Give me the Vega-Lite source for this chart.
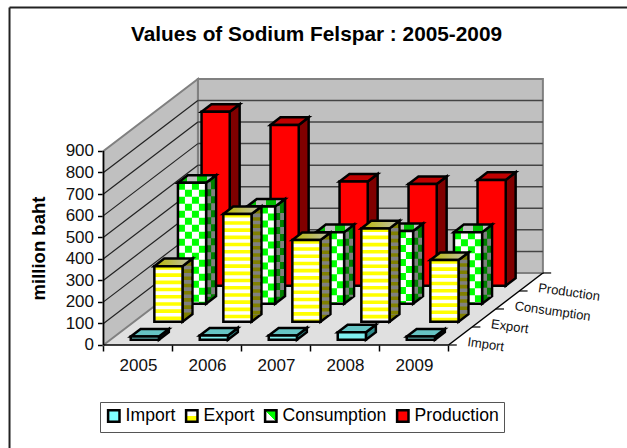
{
"$schema":"https://vega.github.io/schema/vega-lite/v6.json",
"width":627,"height":448,"autosize":{"type":"none"},"padding":0,"background":"white",
"config":{"font":"Liberation Sans","view":{"stroke":null}},
"resolve":{"axis":{"x":"independent","y":"independent"}},
"title":{"text":"Values of Sodium Felspar : 2005-2009","anchor":"middle","frame":"group","offset":-46,"dx":3,"font":"Liberation Sans","fontSize":20.8,"fontWeight":"bold","color":"black"},
"datasets":{
"bars":[
{"year":2005,"series":"Import","k":0,"value":15},{"year":2006,"series":"Import","k":0,"value":20},{"year":2007,"series":"Import","k":0,"value":20},{"year":2008,"series":"Import","k":0,"value":35},{"year":2009,"series":"Import","k":0,"value":15},
{"year":2005,"series":"Export","k":1,"value":258},{"year":2006,"series":"Export","k":1,"value":500},{"year":2007,"series":"Export","k":1,"value":379},{"year":2008,"series":"Export","k":1,"value":433},{"year":2009,"series":"Export","k":1,"value":286},
{"year":2005,"series":"Consumption","k":2,"value":561},{"year":2006,"series":"Consumption","k":2,"value":451},{"year":2007,"series":"Consumption","k":2,"value":332},{"year":2008,"series":"Consumption","k":2,"value":337},{"year":2009,"series":"Consumption","k":2,"value":332},
{"year":2005,"series":"Production","k":3,"value":807},{"year":2006,"series":"Production","k":3,"value":746},{"year":2007,"series":"Production","k":3,"value":483},{"year":2008,"series":"Production","k":3,"value":472},{"year":2009,"series":"Production","k":3,"value":491}
],
"grid":[{"v":0},{"v":100},{"v":200},{"v":300},{"v":400},{"v":500},{"v":600},{"v":700},{"v":800},{"v":900}],
"depth":[{"k":0,"series":"Import"},{"k":1,"series":"Export"},{"k":2,"series":"Consumption"},{"k":3,"series":"Production"}],
"depthTicks":[{"k":0},{"k":1},{"k":2},{"k":3},{"k":4}]
},
"layer":[
{"data":{"values":[{"px":2004.5,"lo":0,"hi":0},{"px":2005.868,"lo":0,"hi":334},{"px":2009.5,"lo":0,"hi":334},{"px":2010.868,"lo":334,"hi":334}]},
 "mark":{"type":"area","fill":"#e0e0e0","orient":"vertical"},
 "encoding":{
  "x":{"field":"px","type":"quantitative","scale":{"domain":[2003,2012.087],"nice":false,"zero":false},"title":null,
   "axis":{"orient":"bottom","offset":-103,"values":[2004.5,2005.5,2006.5,2007.5,2008.5,2009.5],"labelExpr":"datum.value<2009.5 ? format(datum.value+0.5,'d') : ''","labelOffset":34.5,"labelAlign":"center","labelFontSize":17,"labelFont":"Liberation Sans","labelColor":"#111","labelPadding":6,"tickSize":6,"tickColor":"black","tickWidth":1.5,"domain":false,"grid":false,"labelOverlap":false,"labelBound":false,"labelFlush":false}},
  "y":{"field":"lo","type":"quantitative","scale":{"domain":[-477.7,1600],"nice":false,"zero":false},
   "axis":{"orient":"left","offset":-103.5,"values":[0,100,200,300,400,500,600,700,800,900],"format":"d","labelFontSize":17,"labelFont":"Liberation Sans","labelColor":"#111","labelPadding":4,"tickSize":6,"tickColor":"black","tickWidth":1.5,"domain":false,"grid":false,"labelOverlap":false,"title":"million baht","titleFont":"Liberation Sans","titleFontSize":18.5,"titleFontWeight":"bold","titleColor":"black","titleX":-65.5,"titleY":248,"titleAngle":-90,"titleAlign":"center","titleBaseline":"middle"}},
  "y2":{"field":"hi"}}},
{"data":{"values":[{"px":2005.868,"px2":2010.868,"lo":334,"hi":1234}]},
 "mark":{"type":"rect","fill":"#c0c0c0","stroke":"#808080","strokeWidth":2},
 "encoding":{
  "x":{"field":"px","type":"quantitative","scale":{"domain":[2003,2012.087],"nice":false,"zero":false},"axis":null},
  "x2":{"field":"px2"},
  "y":{"field":"lo","type":"quantitative","scale":{"domain":[-477.7,1600],"nice":false,"zero":false},"axis":null},
  "y2":{"field":"hi"}}},
{"data":{"values":[{"px":2004.5,"lo":0,"hi":900},{"px":2005.868,"lo":334,"hi":1234}]},
 "mark":{"type":"area","fill":"#c0c0c0","stroke":"#808080","strokeWidth":2,"orient":"vertical"},
 "encoding":{"x":{"field":"px","type":"quantitative","scale":{"domain":[2003,2012.087],"nice":false,"zero":false},"axis":null},"y":{"field":"lo","type":"quantitative","scale":{"domain":[-477.7,1600],"nice":false,"zero":false},"axis":null},"y2":{"field":"hi"}}},
{"data":{"name":"grid"},"transform":[{"filter":"datum.v>0"},{"calculate":"datum.v+334","as":"vb"},{"calculate":"2004.5","as":"a"},{"calculate":"2005.868","as":"b"},{"calculate":"2010.868","as":"c"}],
 "layer":[
 {"transform":[{"filter":"datum.v<900"}],"mark":{"type":"rule","stroke":"#222","strokeWidth":1.2},
  "encoding":{"x":{"field":"a","type":"quantitative","scale":{"domain":[2003,2012.087],"nice":false,"zero":false},"axis":null},"x2":{"field":"b"},"y":{"field":"v","type":"quantitative","scale":{"domain":[-477.7,1600],"nice":false,"zero":false},"axis":null},"y2":{"field":"vb"}}},
 {"transform":[{"filter":"datum.v<900"}],"mark":{"type":"rule","stroke":"#444","strokeWidth":1.5},
  "encoding":{"x":{"field":"b","type":"quantitative","scale":{"domain":[2003,2012.087],"nice":false,"zero":false},"axis":null},"x2":{"field":"c"},"y":{"field":"vb","type":"quantitative","scale":{"domain":[-477.7,1600],"nice":false,"zero":false},"axis":null}}}
 ]},
{"data":{"values":[{"a":2004.5,"b":2004.5,"c":0,"d":900},{"a":2004.5,"b":2009.5,"c":0,"d":0},{"a":2009.5,"b":2010.868,"c":0,"d":334}]},
 "mark":{"type":"rule","stroke":"black","strokeWidth":1.5},
 "encoding":{"x":{"field":"a","type":"quantitative","scale":{"domain":[2003,2012.087],"nice":false,"zero":false},"axis":null},"x2":{"field":"b"},"y":{"field":"c","type":"quantitative","scale":{"domain":[-477.7,1600],"nice":false,"zero":false},"axis":null},"y2":{"field":"d"}}},
{"data":{"name":"depthTicks"},"transform":[{"calculate":"2009.5+datum.k*0.342","as":"a"},{"calculate":"datum.a+0.12","as":"b"},{"calculate":"datum.k*83.5","as":"c"}],
 "mark":{"type":"rule","stroke":"black","strokeWidth":1.2},
 "encoding":{"x":{"field":"a","type":"quantitative","scale":{"domain":[2003,2012.087],"nice":false,"zero":false},"axis":null},"x2":{"field":"b"},"y":{"field":"c","type":"quantitative","scale":{"domain":[-477.7,1600],"nice":false,"zero":false},"axis":null}}},
{"data":{"name":"depth"},"transform":[{"calculate":"2009.5+(datum.k+0.5)*0.342","as":"a"},{"calculate":"(datum.k+0.5)*83.5","as":"c"}],
 "mark":{"type":"text","align":"left","baseline":"middle","angle":8,"fontSize":13,"font":"Liberation Sans","fill":"#111","dx":8,"dy":5},
 "encoding":{"text":{"field":"series"},"x":{"field":"a","type":"quantitative","scale":{"domain":[2003,2012.087],"nice":false,"zero":false},"axis":null},"y":{"field":"c","type":"quantitative","scale":{"domain":[-477.7,1600],"nice":false,"zero":false},"axis":null}}},
{"data":{"values":[{"a":2003.138,"b":2012.087,"c":1565.4,"d":1565.4},{"a":2003.138,"b":2003.138,"c":1565.4,"d":-477.7}]},
 "mark":{"type":"rule","stroke":"#222","strokeWidth":2},
 "encoding":{"x":{"field":"a","type":"quantitative","scale":{"domain":[2003,2012.087],"nice":false,"zero":false},"axis":null},"x2":{"field":"b"},"y":{"field":"c","type":"quantitative","scale":{"domain":[-477.7,1600],"nice":false,"zero":false},"axis":null},"y2":{"field":"d"}}},
{"data":{"name":"bars"},
 "transform":[
  {"calculate":"datum.k+0.29","as":"d0"},
  {"calculate":"datum.year-0.2043+datum.d0*0.342","as":"xl"},
  {"calculate":"datum.xl+0.4086","as":"xr"},
  {"calculate":"datum.xr+0.1436","as":"xb"},
  {"calculate":"(datum.xl+datum.xr)/2","as":"xc"},
  {"calculate":"datum.xr+0.0718","as":"xs"},
  {"calculate":"datum.d0*83.5","as":"base"},
  {"calculate":"datum.base+datum.value","as":"top"},
  {"calculate":"datum.top+2","as":"st"},
  {"calculate":"datum.base+33","as":"sb"}
 ],
 "layer":[
  {"transform":[{"filter":"datum.series=='Production'"}],"layer":[
   {"transform":[{"fold":["xr","xb"],"as":["face","px"]},{"calculate":"datum.base+(datum.face=='xb'?35.07:0)","as":"lo"},{"calculate":"datum.top+(datum.face=='xb'?35.07:0)","as":"hi"}],
    "mark":{"type":"area","fill":"#800000","stroke":"black","strokeWidth":2.5,"orient":"vertical"},
    "encoding":{"detail":{"field":"year"},"x":{"field":"px","type":"quantitative","scale":{"domain":[2003,2012.087],"nice":false,"zero":false},"axis":null},"y":{"field":"lo","type":"quantitative","scale":{"domain":[-477.7,1600],"nice":false,"zero":false},"axis":null},"y2":{"field":"hi"}}},
   {"mark":{"type":"point","shape":"M0,0L2.82,0L3.81,-.756L.99,-.756Z","size":400,"filled":true,"fill":"#c00000","stroke":"black","strokeWidth":2.5,"opacity":1},
    "encoding":{"x":{"field":"xl","type":"quantitative","scale":{"domain":[2003,2012.087],"nice":false,"zero":false},"axis":null},"y":{"field":"top","type":"quantitative","scale":{"domain":[-477.7,1600],"nice":false,"zero":false},"axis":null}}},
   {"mark":{"type":"rect","stroke":"black","strokeWidth":2.5},
    "encoding":{
     "fill":{"field":"series","type":"nominal","scale":{"domain":["Import","Export","Consumption","Production"],"range":["#80ffff",{"expr":"{gradient:'linear',x1:0,y1:0,x2:0,y2:1,stops:[{offset:0,color:'#ffffff'},{offset:0.5,color:'#ffffff'},{offset:0.5,color:'#ffff00'},{offset:1,color:'#ffff00'}]}"},{"expr":"{gradient:'linear',x1:0,y1:1,x2:1,y2:0,stops:[{offset:0,color:'#ffffff'},{offset:0.5,color:'#ffffff'},{offset:0.5,color:'#00ff00'},{offset:1,color:'#00ff00'}]}"},"#ff0000"]},
      "legend":{"orient":"none","legendX":100,"legendY":402,"direction":"horizontal","columns":4,"title":null,"symbolType":"square","symbolSize":130,"symbolStrokeColor":"black","symbolStrokeWidth":2.5,"symbolOpacity":1,"labelFontSize":17.6,"labelFont":"Liberation Sans","labelColor":"black","labelOffset":3,"labelLimit":200,"columnPadding":5,"padding":5,"strokeColor":"#555","fillColor":"white","values":["Import","Export","Consumption","Production"]}},
     "x":{"field":"xl","type":"quantitative","scale":{"domain":[2003,2012.087],"nice":false,"zero":false},"axis":null},"x2":{"field":"xr"},"y":{"field":"base","type":"quantitative","scale":{"domain":[-477.7,1600],"nice":false,"zero":false},"axis":null},"y2":{"field":"top"}}}
  ]},
  {"transform":[{"filter":"datum.series=='Consumption'"}],
   "encoding":{"x":{"field":"xl","type":"quantitative","scale":{"domain":[2003,2012.087],"nice":false,"zero":false},"axis":null},"y":{"field":"top","type":"quantitative","scale":{"domain":[-477.7,1600],"nice":false,"zero":false},"axis":null}},
   "layer":[
   {"transform":[{"fold":["xr","xb"],"as":["face","px"]},{"calculate":"datum.base+(datum.face=='xb'?35.07:0)","as":"lo"},{"calculate":"datum.top+(datum.face=='xb'?35.07:0)","as":"hi"}],
    "mark":{"type":"area","fill":"#008000","stroke":"black","strokeWidth":2.5,"orient":"vertical"},
    "encoding":{"detail":{"field":"year"},"x":{"field":"px","type":"quantitative"},"y":{"field":"lo","type":"quantitative"},"y2":{"field":"hi"}}},
   {"mark":{"type":"rule","stroke":"#808080","strokeWidth":3.8,"strokeDash":[7,7],"xOffset":-2},"encoding":{"x":{"field":"xs","type":"quantitative"},"y":{"field":"st","type":"quantitative"},"y2":{"field":"sb"}}},
   {"mark":{"type":"rule","stroke":"#808080","strokeWidth":3.8,"strokeDash":[7,7],"strokeDashOffset":7,"xOffset":2},"encoding":{"x":{"field":"xs","type":"quantitative"},"y":{"field":"st","type":"quantitative"},"y2":{"field":"sb"}}},
   {"mark":{"type":"point","shape":"M0,0L2.82,0L3.81,-.756L.99,-.756Z","size":400,"filled":true,"fill":{"gradient":"linear","x1":0,"y1":0,"x2":1,"y2":0,"stops":[{"offset":0,"color":"#00c000"},{"offset":0.25,"color":"#00c000"},{"offset":0.25,"color":"#c0c0c0"},{"offset":0.5,"color":"#c0c0c0"},{"offset":0.5,"color":"#00c000"},{"offset":0.75,"color":"#00c000"},{"offset":0.75,"color":"#c0c0c0"},{"offset":1,"color":"#c0c0c0"}]},"stroke":"black","strokeWidth":2.5,"opacity":1}},
   {"mark":{"type":"rect","fill":"white"},"encoding":{"x2":{"field":"xr"},"y2":{"field":"base"}}},
   {"mark":{"type":"rule","stroke":"#00ff00","strokeWidth":7,"strokeDash":[7,7],"xOffset":3.5},"encoding":{"y2":{"field":"base"}}},
   {"mark":{"type":"rule","stroke":"#00ff00","strokeWidth":7,"strokeDash":[7,7],"strokeDashOffset":7,"xOffset":10.5},"encoding":{"y2":{"field":"base"}}},
   {"mark":{"type":"rule","stroke":"#00ff00","strokeWidth":7,"strokeDash":[7,7],"xOffset":17.5},"encoding":{"y2":{"field":"base"}}},
   {"mark":{"type":"rule","stroke":"#00ff00","strokeWidth":7,"strokeDash":[7,7],"strokeDashOffset":7,"xOffset":24.5},"encoding":{"y2":{"field":"base"}}},
   {"mark":{"type":"rect","fillOpacity":0,"fill":"white","stroke":"black","strokeWidth":2.5},"encoding":{"x2":{"field":"xr"},"y2":{"field":"base"}}}
  ]},
  {"transform":[{"filter":"datum.series=='Export'"}],
   "encoding":{"x":{"field":"xl","type":"quantitative","scale":{"domain":[2003,2012.087],"nice":false,"zero":false},"axis":null},"y":{"field":"top","type":"quantitative","scale":{"domain":[-477.7,1600],"nice":false,"zero":false},"axis":null}},
   "layer":[
   {"transform":[{"fold":["xr","xb"],"as":["face","px"]},{"calculate":"datum.base+(datum.face=='xb'?35.07:0)","as":"lo"},{"calculate":"datum.top+(datum.face=='xb'?35.07:0)","as":"hi"}],
    "mark":{"type":"area","fill":"#808000","stroke":"black","strokeWidth":2.5,"orient":"vertical"},
    "encoding":{"detail":{"field":"year"},"x":{"field":"px","type":"quantitative"},"y":{"field":"lo","type":"quantitative"},"y2":{"field":"hi"}}},
   {"mark":{"type":"rule","stroke":"#808080","strokeWidth":7.5,"strokeDash":[3.6,3.6]},"encoding":{"x":{"field":"xs","type":"quantitative"},"y":{"field":"st","type":"quantitative"},"y2":{"field":"sb"}}},
   {"mark":{"type":"point","shape":"M0,0L2.82,0L3.81,-.756L.99,-.756Z","size":400,"filled":true,"fill":{"gradient":"linear","x1":0,"y1":0,"x2":1,"y2":0,"stops":[{"offset":0,"color":"#b8b800"},{"offset":1,"color":"#c0c0b0"}]},"stroke":"black","strokeWidth":2.5,"opacity":1}},
   {"mark":{"type":"rect","fill":"white"},"encoding":{"x2":{"field":"xr"},"y2":{"field":"base"}}},
   {"mark":{"type":"rule","stroke":"#ffff00","strokeWidth":27,"strokeDash":[3.6,3.6],"xOffset":14},"encoding":{"y2":{"field":"base"}}},
   {"mark":{"type":"rect","fillOpacity":0,"fill":"white","stroke":"black","strokeWidth":2.5},"encoding":{"x2":{"field":"xr"},"y2":{"field":"base"}}}
  ]},
  {"transform":[{"filter":"datum.series=='Import'"}],
   "encoding":{"x":{"field":"xl","type":"quantitative","scale":{"domain":[2003,2012.087],"nice":false,"zero":false},"axis":null},"y":{"field":"top","type":"quantitative","scale":{"domain":[-477.7,1600],"nice":false,"zero":false},"axis":null}},
   "layer":[
   {"transform":[{"fold":["xr","xb"],"as":["face","px"]},{"calculate":"datum.base+(datum.face=='xb'?35.07:0)","as":"lo"},{"calculate":"datum.top+(datum.face=='xb'?35.07:0)","as":"hi"}],
    "mark":{"type":"area","fill":"#2e8b8b","stroke":"black","strokeWidth":2.5,"orient":"vertical"},
    "encoding":{"detail":{"field":"year"},"x":{"field":"px","type":"quantitative"},"y":{"field":"lo","type":"quantitative"},"y2":{"field":"hi"}}},
   {"mark":{"type":"point","shape":"M0,0L2.82,0L3.81,-.756L.99,-.756Z","size":400,"filled":true,"fill":"#66c4c4","stroke":"black","strokeWidth":2.5,"opacity":1}},
   {"mark":{"type":"rect","fill":"#80f0f0","stroke":"black","strokeWidth":2.5},"encoding":{"x2":{"field":"xr"},"y2":{"field":"base"}}}
  ]}
 ]}
]}
